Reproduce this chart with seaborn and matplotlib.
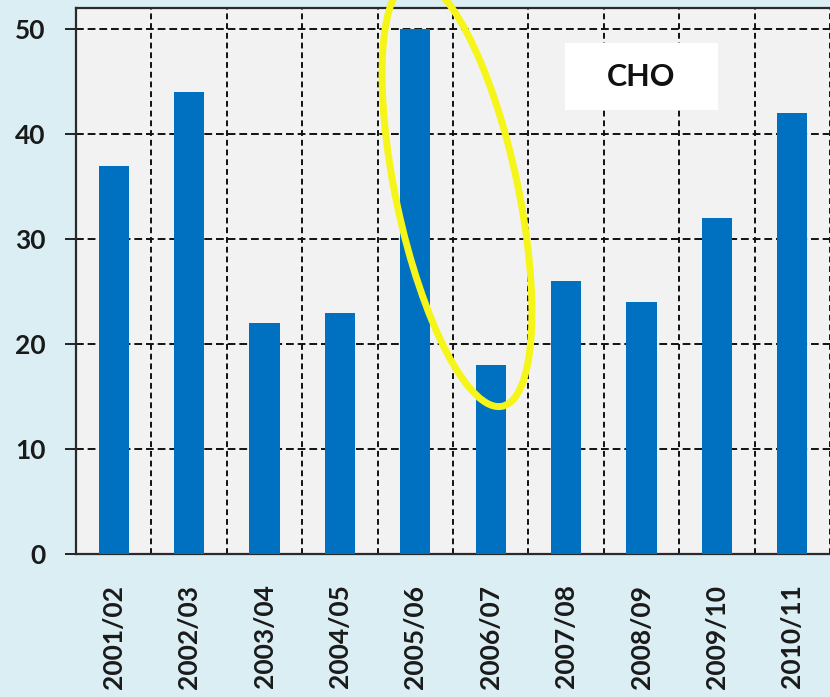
import matplotlib
matplotlib.use("Agg")
import matplotlib.pyplot as plt
import matplotlib.transforms as mtransforms
from matplotlib.patches import Ellipse, Rectangle
import seaborn as sns
import pandas as pd

seasons = ["2001/02", "2002/03", "2003/04", "2004/05", "2005/06",
           "2006/07", "2007/08", "2008/09", "2009/10", "2010/11"]
values = [37, 44, 22, 23, 50, 18, 26, 24, 32, 42]
y_ticks = [0, 10, 20, 30, 40, 50]
label_text = "CHO"

df = pd.DataFrame({"season": seasons, "value": values})

sns.set_style("white")
plt.rcParams["font.family"] = ["Lato", "DejaVu Sans"]

W, H, DPI = 830, 697, 100
fig = plt.figure(figsize=(W / DPI, H / DPI), dpi=DPI, facecolor="#DAEEF3")
ax = fig.add_axes([76 / W, 1 - 554 / H, 1 - 76 / W, (554 - 8) / H])
ax.set_facecolor("#F2F2F2")

sns.barplot(data=df, x="season", y="value", color="#0070C0", saturation=1,
            width=0.4, ax=ax, zorder=3, edgecolor="none")

ax.set_xlim(-0.5, (W - 76) / 75.8 - 0.5)
ax.set_ylim(0, 52)
ax.set_yticks(y_ticks)
ax.set_yticklabels([str(v) for v in y_ticks], fontsize=19, fontweight="bold", color="#1a1a1a")
ax.set_xticks(range(len(seasons)))
ax.set_xticklabels(seasons, rotation=90, fontsize=19, fontweight="bold", color="#1a1a1a")
ax.set_xticks([i + 0.5 for i in range(len(seasons))], minor=True)
ax.set_xlabel("")
ax.set_ylabel("")

ax.grid(False)
for yv in y_ticks[1:]:
    ax.axhline(yv, color="#111111", lw=1.4, ls=(0, (4, 2)), zorder=1)
ax.grid(True, axis="x", which="minor", color="#111111", lw=1.4, ls=(0, (3, 2)), zorder=1)
ax.set_axisbelow(True)

ax.tick_params(axis="y", which="major", length=8, width=1.4, color="#222222", pad=14, left=True)
ax.tick_params(axis="x", which="major", length=0, pad=22)
ax.tick_params(axis="x", which="minor", length=0)

for side in ["left", "bottom", "top"]:
    ax.spines[side].set_visible(True)
    ax.spines[side].set_color("#2a2a2a")
    ax.spines[side].set_linewidth(1.6)
ax.spines["right"].set_visible(False)

# label box
ax.add_patch(Rectangle((5.99, 42.3), 2.02, 6.4, facecolor="white", edgecolor="none", zorder=2))
ax.text(7.0, 45.4, label_text, ha="center", va="center", fontsize=22, fontweight="bold",
        color="#111111", zorder=4)

# yellow highlight ellipse (pixel coordinates)
ell = Ellipse((457, H - 193), width=122, height=436, angle=12,
              transform=mtransforms.IdentityTransform(), fill=False,
              edgecolor="#F5F51A", lw=5, zorder=10, clip_on=False)
fig.patches.append(ell)
ell.set_figure(fig)

fig.savefig("out.png", dpi=DPI, facecolor=fig.get_facecolor())
